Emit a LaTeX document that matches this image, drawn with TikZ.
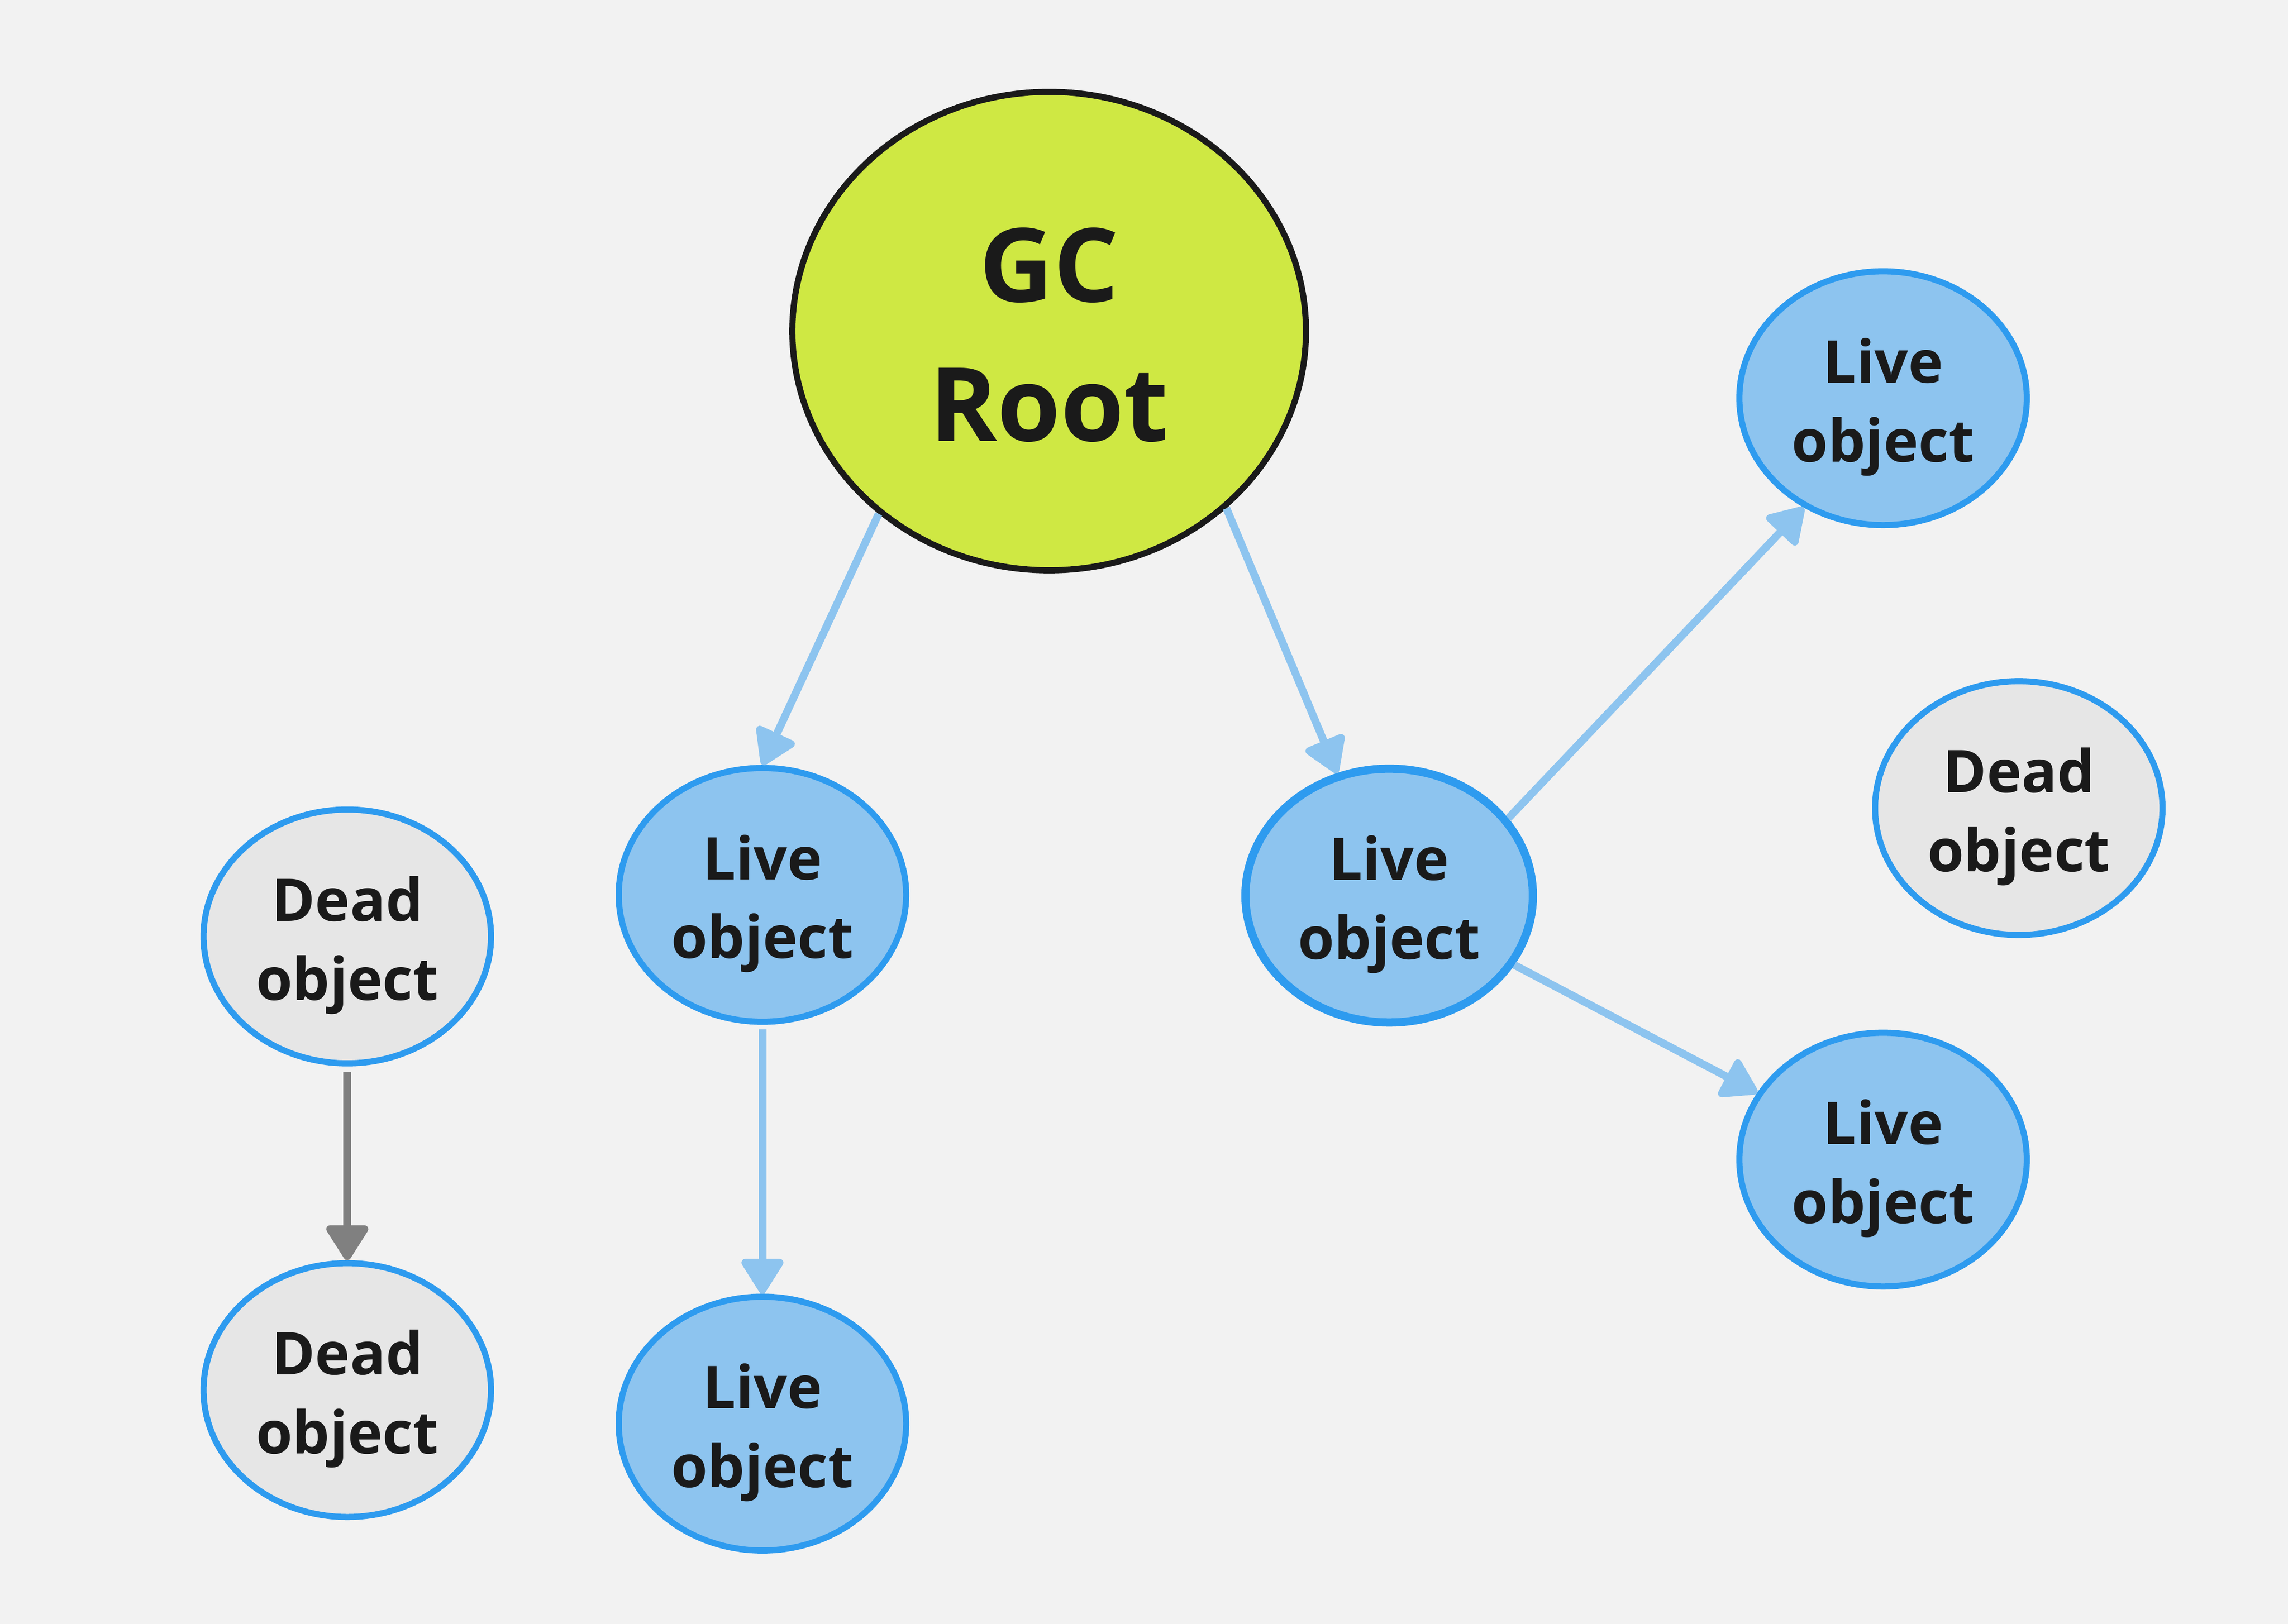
\documentclass[tikz,border=0pt]{standalone}
\usepackage{fontspec}
\setmainfont{Open Sans}
\usepackage{tikz}
\usetikzlibrary{arrows.meta, positioning, shapes.geometric}
\definecolor{gcgreen}{RGB}{207,232,67}
\definecolor{livefill}{RGB}{141,196,239}
\definecolor{objborder}{RGB}{46,155,239}
\definecolor{deadfill}{RGB}{230,230,230}
\definecolor{bggray}{RGB}{242,242,242}
\definecolor{refblue}{RGB}{141,196,239}
\definecolor{refgray}{RGB}{128,128,128}
\definecolor{textdark}{RGB}{26,26,26}

\begin{document}
\begin{tikzpicture}[
    obj_node/.style={ellipse, draw=objborder, line width=1.2pt, minimum width=1.97cm, minimum height=1.74cm, inner sep=0pt, align=center, text=textdark, text height=27.6pt, text depth=2.8pt, font=\fontsize{11.5}{15.4}\selectfont\bfseries},
    live_obj/.style={obj_node, fill=livefill},
    dead_obj/.style={obj_node, fill=deadfill},
    root_node/.style={ellipse, draw=textdark, line width=1.2pt, fill=gcgreen, minimum width=3.52cm, minimum height=3.28cm, inner sep=0pt, align=center, text=textdark, text height=43.3pt, text depth=0.3pt, font=\fontsize{20}{27.2}\selectfont\bfseries},
    ref_arrow/.style={-{Triangle[round, width=9pt, length=7.5pt]}, line width=1.5pt, draw=refblue, fill=refblue},
    dead_arrow/.style={ref_arrow, draw=refgray, fill=refgray}
]

    % Canvas
    \fill[bggray] (0,0) rectangle (15.68,-11.133);

    % GC root
    \node[root_node] (gc_root) at (7.19,-2.27) {GC\\Root};

    % Reachable objects
    \node[live_obj] (live_a) at (5.225,-6.135) {Live\\object};
    \node[live_obj] (live_b) at (5.225,-9.76) {Live\\object};
    \node[live_obj, line width=1.6pt] (live_c) at (9.52,-6.14) {Live\\object};
    \node[live_obj] (live_d) at (12.905,-2.73) {Live\\object};
    \node[live_obj] (live_e) at (12.905,-7.95) {Live\\object};

    % Unreachable objects
    \node[dead_obj] (dead_a) at (2.38,-6.42) {Dead\\object};
    \node[dead_obj] (dead_b) at (2.38,-9.53) {Dead\\object};
    \node[dead_obj] (dead_c) at (13.835,-5.54) {Dead\\object};

    % References
    \draw[ref_arrow] (gc_root.-133) -- (live_a.north);
    \draw[ref_arrow] (gc_root.-45) -- (live_c.113);
    \draw[ref_arrow] (live_a.south) ++(0,-0.03) -- (live_b.north);
    \draw[ref_arrow] (live_c.33) -- (live_d.-126);
    \draw[ref_arrow] (live_c.-29) -- (live_e.152);
    \draw[dead_arrow] (dead_a.south) ++(0,-0.04) -- (dead_b.north);

\end{tikzpicture}
\end{document}
